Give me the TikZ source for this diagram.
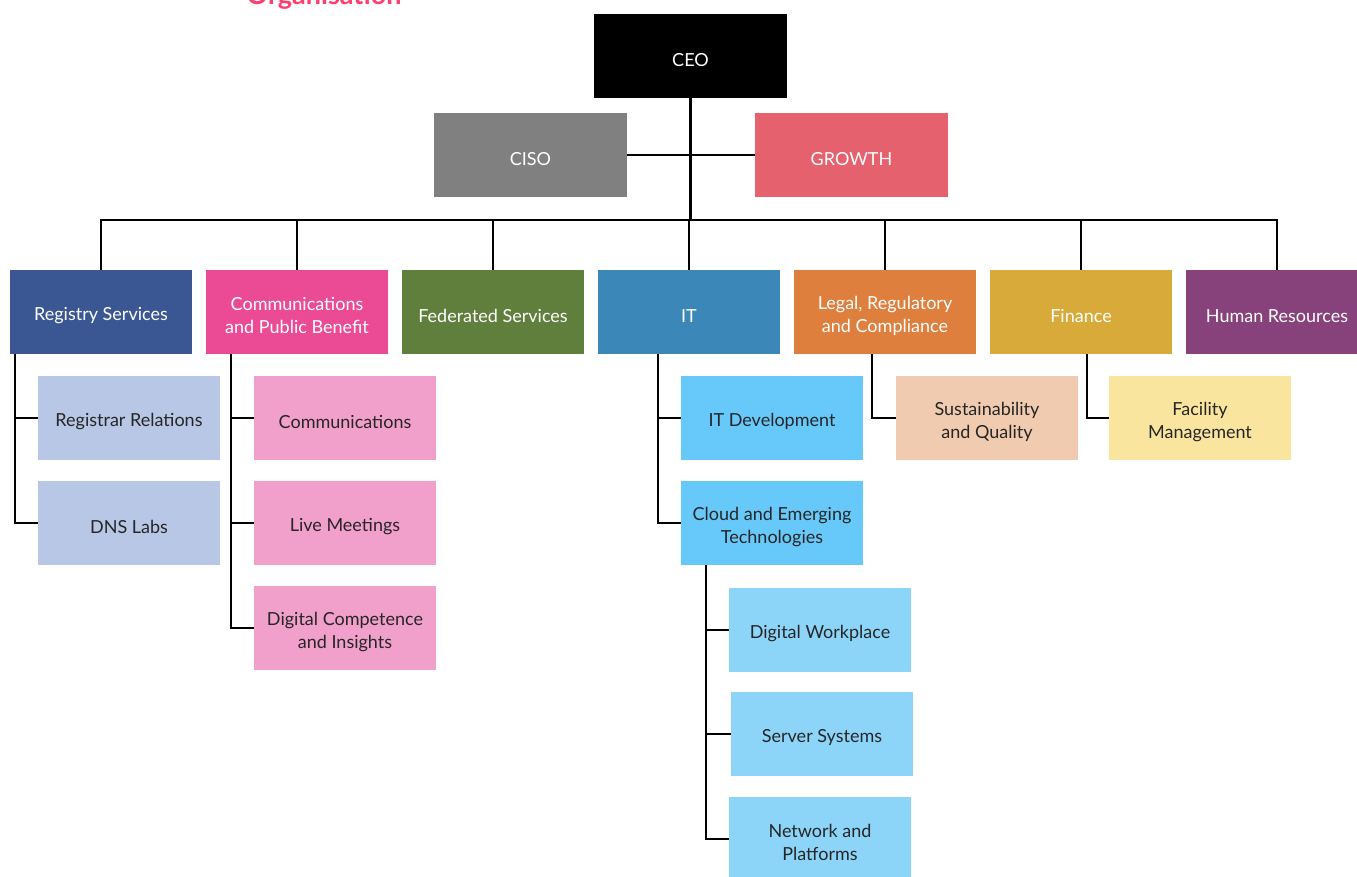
\documentclass[tikz,border=0pt]{standalone}
\usepackage{fontspec}
\setmainfont{Lato}
\definecolor{ceoC}{HTML}{000000}
\definecolor{cisoC}{HTML}{808080}
\definecolor{growC}{HTML}{E5616E}
\definecolor{regC}{HTML}{3A5794}
\definecolor{comC}{HTML}{EB4B94}
\definecolor{fedC}{HTML}{607F3D}
\definecolor{itC}{HTML}{3A87B8}
\definecolor{legC}{HTML}{DF7F3E}
\definecolor{finC}{HTML}{D8AA3A}
\definecolor{hrC}{HTML}{88427B}
\definecolor{regL}{HTML}{B8C7E6}
\definecolor{comL}{HTML}{F19FCB}
\definecolor{itL}{HTML}{67C8FA}
\definecolor{itLL}{HTML}{8CD5F9}
\definecolor{legL}{HTML}{F1CBAF}
\definecolor{finL}{HTML}{FAE59F}
\definecolor{txtD}{HTML}{262626}
\definecolor{titleC}{HTML}{FF3D6E}
\newcommand\topstrut{\rule{0pt}{21pt}}
\begin{document}
\begin{tikzpicture}[x=1pt,y=-1pt,
  box/.style={rectangle,minimum width=182pt,minimum height=84pt,inner sep=0pt,
    align=center,font=\fontsize{18}{23}\selectfont,text=white},
  sub/.style={box,text=txtD},
  conn/.style={line width=2.8pt,black}]
\useasboundingbox (0,0) rectangle (1357,877);
\clip (0,0) rectangle (1357,877);
\fill[white] (0,0) rectangle (1357,877);
\node[font=\bfseries\fontsize{27}{30}\selectfont,text=titleC,anchor=base,inner sep=0pt] (title) at (324,4.5) {Organisation};
% top
\node[box,fill=ceoC,minimum width=193pt] (ceo) at (690.5,56) {\topstrut CEO};
\node[box,fill=cisoC,minimum width=193pt] (ciso) at (530.5,155) {\topstrut CISO};
\node[box,fill=growC,minimum width=193pt] (grow) at (851.5,155) {\topstrut GROWTH};
% tier
\node[box,fill=regC] (reg) at (101,312) {\topstrut Registry Services};
\node[box,fill=comC] (com) at (297,312) {\topstrut Communications\\and Public Benefit};
\node[box,fill=fedC] (fed) at (493,312) {\topstrut Federated Services};
\node[box,fill=itC] (it) at (689,312) {\topstrut IT};
\node[box,fill=legC] (leg) at (885,312) {\topstrut Legal, Regulatory\\and Compliance};
\node[box,fill=finC] (fin) at (1081,312) {\topstrut Finance};
\node[box,fill=hrC] (hr) at (1277,312) {\topstrut Human Resources};
% children
\node[sub,fill=regL] (rr) at (129,418) {\topstrut Registrar Relations};
\node[sub,fill=regL] (dns) at (129,523) {\topstrut DNS Labs};
\node[sub,fill=comL] (comm) at (345,418) {\topstrut Communications};
\node[sub,fill=comL] (live) at (345,523) {\topstrut Live Meetings};
\node[sub,fill=comL] (dci) at (345,628) {\topstrut Digital Competence\\and Insights};
\node[sub,fill=itL] (itd) at (772,418) {\topstrut IT Development};
\node[sub,fill=itL] (cloud) at (772,523) {\topstrut Cloud and Emerging\\Technologies};
\node[sub,fill=itLL] (dw) at (820,630) {\topstrut Digital Workplace};
\node[sub,fill=itLL] (ss) at (822,734) {\topstrut Server Systems};
\node[sub,fill=itLL] (np) at (820,839) {\topstrut Network and\\Platforms};
\node[sub,fill=legL] (sq) at (987,418) {\topstrut Sustainability\\and Quality};
\node[sub,fill=finL] (fm) at (1200,418) {\topstrut Facility\\Management};
% connectors
\coordinate (busL) at (101,220);
\coordinate (busR) at (1277,220);
\draw[conn] (ceo.south) -- (ceo.south |- busL);
\draw[conn] (ciso.east) -- (grow.west);
\draw[conn,line cap=rect] (busL) -- (busR);
\foreach \n in {reg,com,fed,it,leg,fin,hr}{
  \draw[conn] (\n.north) -- (\n.north |- busL);
}
\coordinate (regT) at (15,354);
\draw[conn] (regT) |- (rr.west);
\draw[conn] (regT) |- (dns.west);
\coordinate (comT) at (231,354);
\draw[conn] (comT) |- (comm.west);
\draw[conn] (comT) |- (live.west);
\draw[conn] (comT) |- (dci.west);
\coordinate (itT) at (658,354);
\draw[conn] (itT) |- (itd.west);
\draw[conn] (itT) |- (cloud.west);
\coordinate (clT) at (706,565);
\draw[conn] (clT) |- (dw.west);
\draw[conn] (clT) |- (ss.west);
\draw[conn] (clT) |- (np.west);
\coordinate (legT) at (872,354);
\draw[conn] (legT) |- (sq.west);
\coordinate (finT) at (1087,354);
\draw[conn] (finT) |- (fm.west);
\end{tikzpicture}
\end{document}
